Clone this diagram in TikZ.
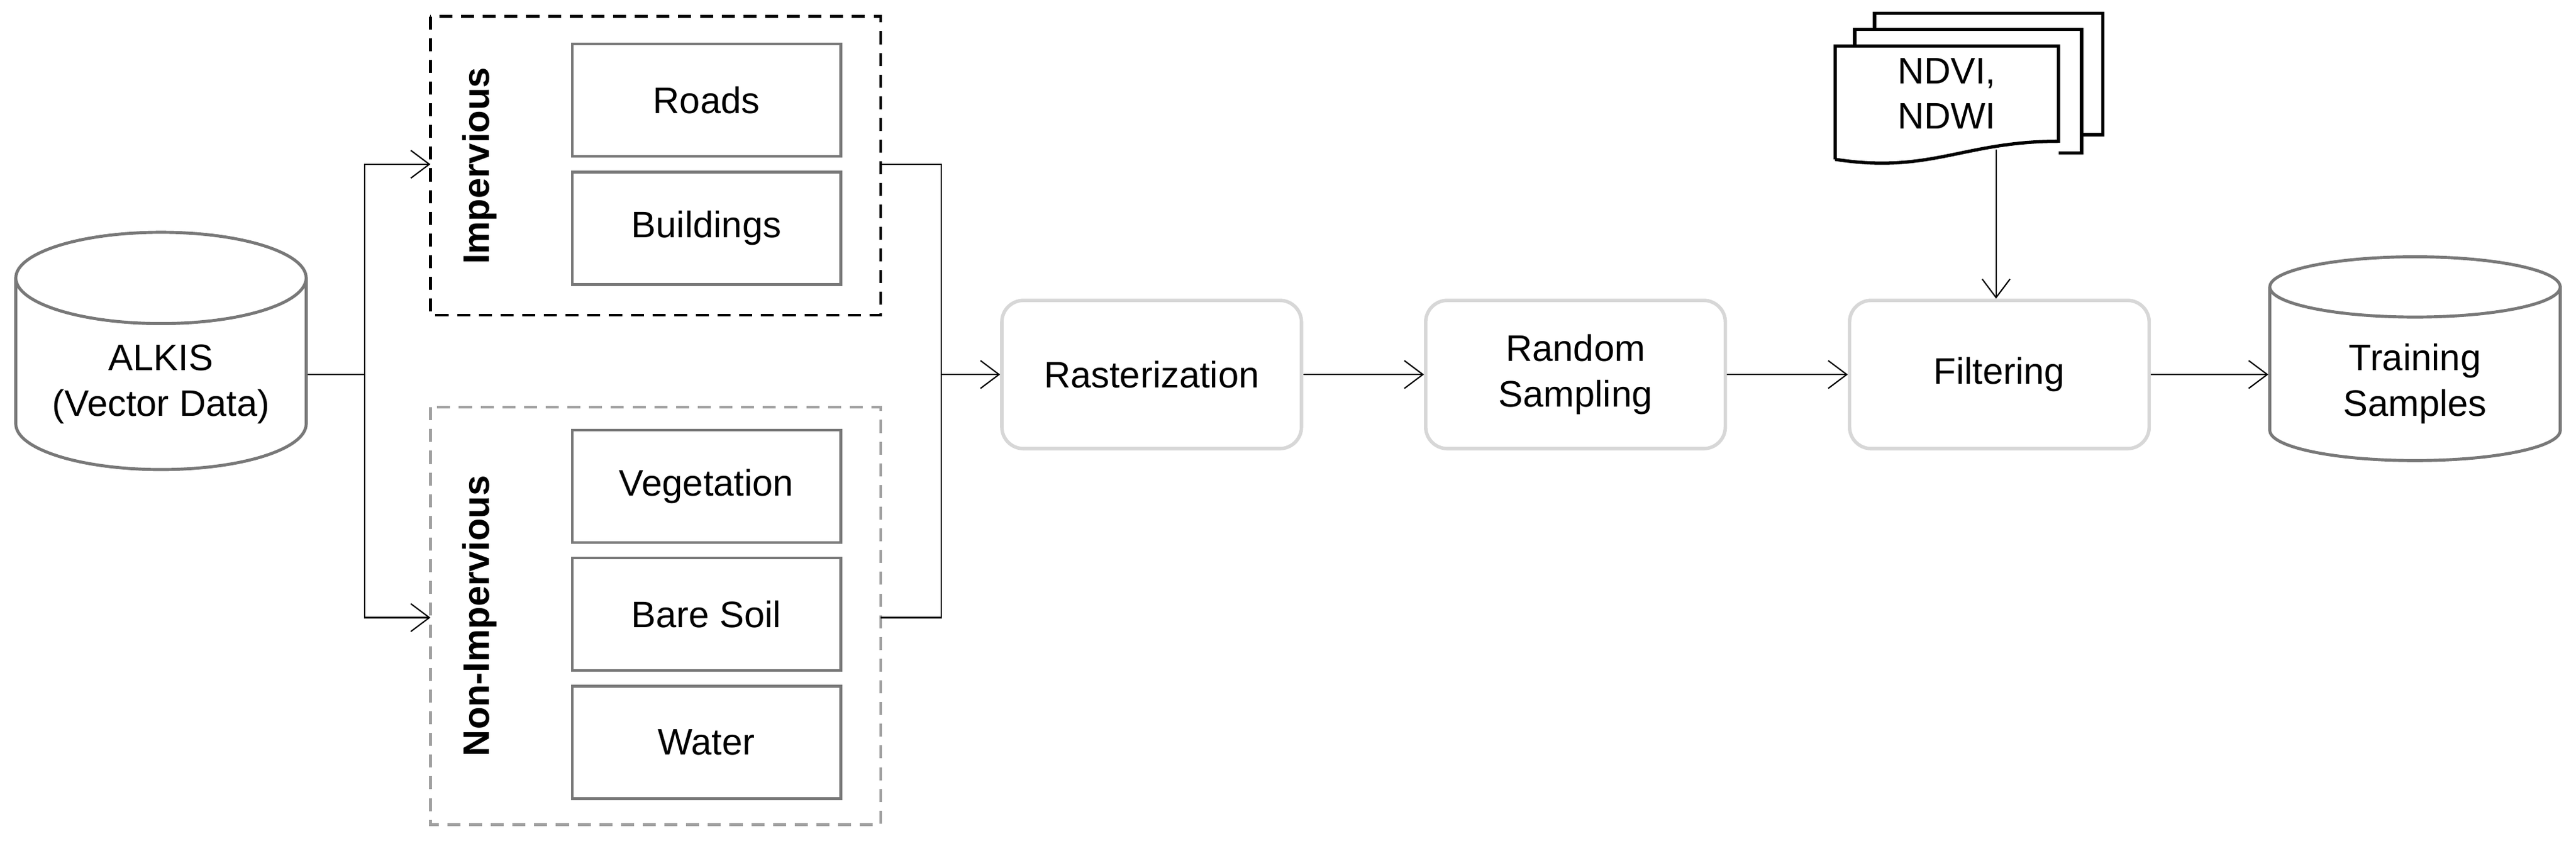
\documentclass[tikz,border=0pt]{standalone}
\usepackage{fontspec}
\setmainfont{Liberation Sans}
\usetikzlibrary{shapes.geometric,arrows.meta}

\tikzset{
  font=\fontsize{17}{21}\selectfont,
  flow/.style={draw=black, line width=0.6pt},
  arr/.style={flow, -{Straight Barb[length=0.3cm,width=0.45cm]}},
  db/.style={cylinder, shape border rotate=90, draw={rgb,255:red,120;green,120;blue,120},
    line width=1.4pt, minimum width=4.7cm, minimum height=3.3cm, aspect=0.42,
    align=center, inner sep=0pt},
  cls/.style={draw={rgb,255:red,120;green,120;blue,120}, line width=1.2pt,
    minimum width=4.35cm, minimum height=1.82cm},
  proc/.style={draw={rgb,255:red,215;green,215;blue,215}, line width=1.6pt,
    rounded corners=0.35cm, minimum width=4.85cm, minimum height=2.4cm, align=center},
  grp/.style={line width=1.2pt, dashed, dash pattern=on 6pt off 4pt},
  doc/.style={draw=black, fill=white, line width=1.5pt},
}

\begin{document}
\begin{tikzpicture}[x=0.0266cm, y=-0.0266cm]
      \useasboundingbox (0,0) rectangle (1568,512);

      % groups
      \draw [grp, draw=black] (262,10) rectangle (536,192);
      \draw [grp, draw={rgb,255:red,160;green,160;blue,160}] (262,248) rectangle (536,502);
      \node [rotate=90, font=\fontsize{17}{21}\selectfont\bfseries] (imp) at (292,101) {Impervious};
      \node [rotate=90, font=\fontsize{17}{21}\selectfont\bfseries] (nonimp) at (292,375) {Non-Impervious};

      \node [cls] (roads) at (430,61) {Roads};
      \node [cls] (build) at (430,139) {Buildings};
      \node [cls] (veg) at (430,296) {Vegetation};
      \node [cls] (soil) at (430,374) {Bare Soil};
      \node [cls] (water) at (430,452) {Water};

      % databases and processes
      \node [db] (alkis) at (98,228) {\\ALKIS\\(Vector Data)};
      \node [proc] (rast) at (701,228) {Rasterization};
      \node [proc] (rand) at (959,228) {Random\\Sampling};
      \node [proc] (filt) at (1217,228) {Filtering};
      \node [db] (train) at (1470,228) {\\Training\\Samples};

      % stacked documents
      \draw [doc] (1141,18) -- (1141,8) -- (1280,8) -- (1280,82) -- (1253,82);
      \draw [doc] (1129,28) -- (1129,18) -- (1267,18) -- (1267,93) -- (1253,93);
      \draw [doc] (1117,97) -- (1117,28) -- (1253,28) -- (1253,86)
            .. controls (1195,86) and (1175,106) .. (1117,97);
      \node [align=center] (ndvi) at (1185,57) {NDVI,\\NDWI};
      \coordinate (wave) at (1215,91);

      % connectors
      \coordinate (split) at (222,228);
      \coordinate (merge) at (573,228);
      \draw [flow] (alkis.east) -- (split);
      \draw [arr] (split) |- (262,100);
      \draw [arr] (split) |- (262,376);
      \draw [flow] (536,100) -| (merge);
      \draw [flow] (536,376) -| (merge);
      \draw [arr] (merge) -- (rast.west);
      \draw [arr] (rast) -- (rand);
      \draw [arr] (rand) -- (filt);
      \draw [arr] (filt) -- (train);
      \draw [arr] (wave) -- (wave |- filt.north);
\end{tikzpicture}
\end{document}
